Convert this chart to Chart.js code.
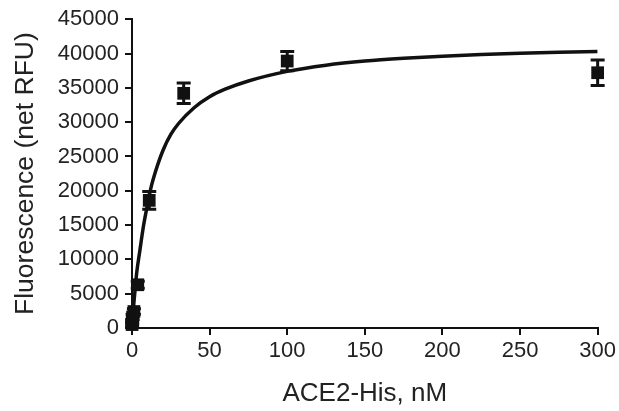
<!DOCTYPE html>
<html>
<head>
<meta charset="utf-8">
<script src="https://cdn.jsdelivr.net/npm/chart.js@4.4.1/dist/chart.umd.min.js"></script>
<style>
  html, body { margin: 0; padding: 0; background: #fff; }
  #wrap { width: 619px; height: 411px; }
</style>
</head>
<body>
<div id="wrap"><canvas id="bindingChart" width="619" height="411"></canvas></div>
<script>
// ACE2-His concentrations (nM), mean signal and error (net RFU)
const concentrations = [0.05, 0.14, 0.41, 1.23, 3.7, 11.1, 33.3, 100, 300];
const fluorescence = [500, 900, 1600, 2400, 6300, 18600, 34200, 38900, 37200];
const errors = [300, 300, 400, 400, 500, 1300, 1500, 1400, 1850];

// fitted binding curve
const fitX = [0, 1, 2, 3, 5, 7.5, 10, 12.5, 15, 20, 25, 30, 40, 50, 60, 75, 100, 125, 150, 175, 200, 225, 250, 275, 300];
const fitY = [0, 3100, 5600, 8000, 11200, 15000, 18000, 20700, 22700, 25900, 28200, 29800, 32100, 33700, 34800, 36000, 37400, 38300, 38900, 39300, 39600, 39850, 40050, 40200, 40300];

// tick labels
const xTicks = [0, 50, 100, 150, 200, 250, 300];
const yTicks = [0, 5000, 10000, 15000, 20000, 25000, 30000, 35000, 40000, 45000];

const ink = '#111';
const textColor = '#222';
Chart.defaults.font.family = "'Liberation Sans', Arial, sans-serif";

// draws the vertical error bars with caps using the chart scales
const errorBars = {
    id: 'errorBars',
    afterDatasetsDraw(chart) {
        const { ctx, scales: { x, y } } = chart;
        ctx.save();
        ctx.strokeStyle = ink;
        ctx.lineWidth = 3;
        concentrations.forEach((c, i) => {
            const px = x.getPixelForValue(c);
            const top = y.getPixelForValue(fluorescence[i] + errors[i]);
            const bottom = y.getPixelForValue(fluorescence[i] - errors[i]);
            ctx.beginPath();
            ctx.moveTo(px, top);
            ctx.lineTo(px, bottom);
            ctx.moveTo(px - 7, top);
            ctx.lineTo(px + 7, top);
            ctx.moveTo(px - 7, bottom);
            ctx.lineTo(px + 7, bottom);
            ctx.stroke();
        });
        ctx.restore();
    }
};

const axisGrid = {
    display: true,
    drawOnChartArea: false,
    drawTicks: true,
    tickLength: 7,
    color: ink,
    lineWidth: 2
};

const ctx = document.getElementById('bindingChart').getContext('2d');
new Chart(ctx, {
    type: 'scatter',
    data: {
        datasets: [
            {
                type: 'line',
                data: fitX.map((v, i) => ({ x: v, y: fitY[i] })),
                borderColor: ink,
                borderWidth: 3.5,
                pointRadius: 0,
                cubicInterpolationMode: 'monotone',
                fill: false
            },
            {
                data: concentrations.map((v, i) => ({ x: v, y: fluorescence[i] })),
                pointStyle: 'rect',
                pointRadius: 9,
                backgroundColor: ink,
                borderColor: ink,
                borderWidth: 0,
                clip: false
            }
        ]
    },
    options: {
        responsive: false,
        animation: false,
        layout: { padding: { top: 18, right: 21, left: 0, bottom: 0 } },
        plugins: { legend: { display: false }, tooltip: { enabled: false } },
        scales: {
            x: {
                type: 'linear',
                min: 0,
                max: 300,
                afterBuildTicks: (s) => { s.ticks = xTicks.map(v => ({ value: v })); },
                afterFit: (s) => { s.height = 83; },
                grid: axisGrid,
                border: { display: true, color: ink, width: 2 },
                ticks: { color: textColor, font: { size: 22 }, padding: 3, maxRotation: 0, callback: (v) => String(v) },
                title: {
                    display: true,
                    text: 'ACE2-His, nM',
                    color: textColor,
                    font: { size: 26, lineHeight: 1 },
                    padding: { top: 0, bottom: 4 }
                }
            },
            y: {
                min: 0,
                max: 45000,
                afterBuildTicks: (s) => { s.ticks = yTicks.map(v => ({ value: v })); },
                afterFit: (s) => { s.width = 132; },
                grid: axisGrid,
                border: { display: true, color: ink, width: 2 },
                ticks: { color: textColor, font: { size: 22 }, padding: 6, callback: (v) => String(v) },
                title: {
                    display: true,
                    text: 'Fluorescence (net RFU)',
                    color: textColor,
                    font: { size: 26.5, lineHeight: 1 },
                    padding: { top: 12, bottom: 0 }
                }
            }
        }
    },
    plugins: [errorBars]
});
</script>
</body>
</html>
